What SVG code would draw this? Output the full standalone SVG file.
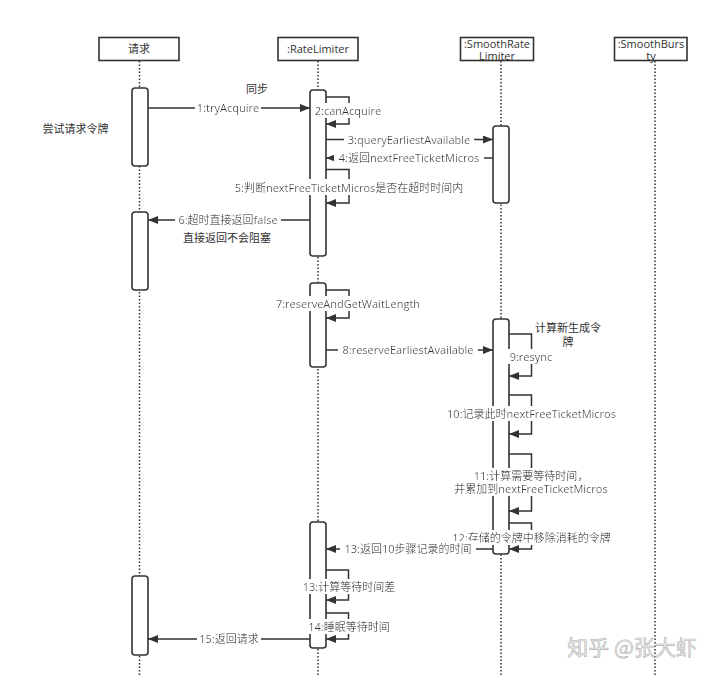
<svg xmlns="http://www.w3.org/2000/svg" width="720" height="675" viewBox="0 0 720 675">
<style>
text{font-family:"Open Sans","Noto Sans CJK SC",sans-serif;font-size:11px;fill:#333}
.hdr{fill:#fff;stroke:#333;stroke-width:1.6}
.life{stroke:#333;stroke-width:1.5;stroke-dasharray:1.5 2;fill:none}
.act{fill:#fff;stroke:#333;stroke-width:1.6}
.msg{stroke:#333;stroke-width:1.5;fill:none;marker-end:url(#ah)}
.lbl{text-anchor:middle;filter:url(#bg)}
.c{text-anchor:middle}
</style>
<defs>
<marker id="ah" viewBox="0 0 10 8" refX="10" refY="4" markerWidth="11" markerHeight="8" markerUnits="userSpaceOnUse" orient="auto">
<path d="M0,0 L10,4 L0,8 Z" fill="#333"/>
</marker>
<filter id="bg" x="-0.03" y="0" width="1.06" height="1">
<feFlood flood-color="#fff"/>
<feComposite in="SourceGraphic" operator="over"/>
</filter>
</defs>
<rect width="720" height="675" fill="#fff"/>

<g id="node-request">
<line class="life" x1="139.5" y1="61" x2="139.5" y2="675"/>
<rect class="hdr" x="99" y="37.5" width="80" height="23"/>
<text class="c" x="139" y="53">请求</text>
<rect class="act" x="132" y="88" width="16" height="78" rx="3"/>
<rect class="act" x="132" y="212" width="16" height="78" rx="3"/>
<rect class="act" x="132" y="576" width="16" height="79" rx="3"/>
</g>

<g id="node-ratelimiter">
<line class="life" x1="318" y1="61" x2="318" y2="675"/>
<rect class="hdr" x="278" y="37.5" width="80" height="23"/>
<text class="c" x="318" y="53">:RateLimiter</text>
<rect class="act" x="310" y="90" width="16" height="166" rx="3"/>
<rect class="act" x="310" y="283" width="16" height="84" rx="3"/>
<rect class="act" x="310" y="522" width="16" height="126" rx="3"/>
</g>

<g id="node-smoothratelimiter">
<line class="life" x1="501" y1="61" x2="501" y2="675"/>
<rect class="hdr" x="460.5" y="37.5" width="73" height="23"/>
<text class="c" x="497" y="47.5">:SmoothRate</text>
<text class="c" x="497" y="59.5">Limiter</text>
<rect class="act" x="493" y="126" width="16" height="77" rx="3"/>
<rect class="act" x="493" y="319" width="16" height="235" rx="3"/>
</g>

<g id="node-smoothbursty">
<line class="life" x1="655" y1="61" x2="655" y2="675"/>
<rect class="hdr" x="614.5" y="37.5" width="72.5" height="23"/>
<text class="c" x="651" y="47.5">:SmoothBurs</text>
<text class="c" x="651" y="59.5">ty</text>
</g>

<g id="connectors">
<line class="msg" x1="148" y1="108" x2="310" y2="108"/>
<polyline class="msg" points="326,97 349,97 349,124 326,124"/>
<line class="msg" x1="326" y1="139.5" x2="493" y2="139.5"/>
<line class="msg" x1="493" y1="158" x2="326" y2="158"/>
<polyline class="msg" points="326,169.5 349,169.5 349,203 326,203"/>
<line class="msg" x1="310" y1="220" x2="148" y2="220"/>
<polyline class="msg" points="326,290 349,290 349,318 326,318"/>
<line class="msg" x1="326" y1="350" x2="493" y2="350"/>
<polyline class="msg" points="509,334 531.5,334 531.5,376 509,376"/>
<polyline class="msg" points="509,395 531.5,395 531.5,434 509,434"/>
<polyline class="msg" points="509,454 531.5,454 531.5,511 509,511"/>
<polyline class="msg" points="509,523 531.5,523 531.5,549 509,549"/>
<line class="msg" x1="493" y1="549" x2="326" y2="549"/>
<polyline class="msg" points="326,570 348.5,570 348.5,600 326,600"/>
<polyline class="msg" points="326,613 348.5,613 348.5,639 326,639"/>
<line class="msg" x1="310" y1="639" x2="148" y2="639"/>
</g>

<g id="labels">
<text class="lbl" x="228" y="112">1:tryAcquire</text>
<text class="lbl" x="348" y="115">2:canAcquire</text>
<text class="lbl" x="409" y="143.5">3:queryEarliestAvailable</text>
<text class="lbl" x="409" y="162">4:返回nextFreeTicketMicros</text>
<text class="lbl" x="349" y="191.5">5:判断nextFreeTicketMicros是否在超时时间内</text>
<text class="lbl" x="228" y="224">6:超时直接返回false</text>
<text class="lbl" x="348" y="308">7:reserveAndGetWaitLength</text>
<text class="lbl" x="408" y="354">8:reserveEarliestAvailable</text>
<text class="lbl" x="531" y="361">9:resync</text>
<text class="lbl" x="531.5" y="418">10:记录此时nextFreeTicketMicros</text>
<text class="lbl" x="531" y="480">11:计算需要等待时间，</text>
<text class="lbl" x="531" y="493">并累加到nextFreeTicketMicros</text>
<text class="lbl" x="531.5" y="542">12:存储的令牌中移除消耗的令牌</text>
<text class="lbl" x="408" y="553">13:返回10步骤记录的时间</text>
<text class="lbl" x="349" y="591">13:计算等待时间差</text>
<text class="lbl" x="349" y="631">14:睡眠等待时间</text>
<text class="lbl" x="229" y="643">15:返回请求</text>
<text class="c" x="257" y="93">同步</text>
<text class="c" x="75.5" y="133">尝试请求令牌</text>
<text class="c" x="227" y="242">直接返回不会阻塞</text>
<text class="c" x="568" y="332">计算新生成令</text>
<text class="c" x="568" y="345.5">牌</text>
</g>

<text x="632" y="655" text-anchor="middle" style="font-family:'Noto Sans CJK SC',sans-serif;font-size:21px;fill:#ececec;stroke:#b5b5b5;stroke-width:0.6">知乎 @张大虾</text>
</svg>
